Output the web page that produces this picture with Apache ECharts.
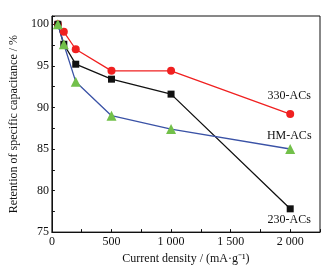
<!DOCTYPE html>
<html>
<head>
<meta charset="utf-8">
<script src="https://cdn.jsdelivr.net/npm/echarts@6/dist/echarts.min.js"></script>
<style>
  html, body { margin: 0; padding: 0; background: #fff; }
  #chart { width: 329px; height: 270px; }
</style>
</head>
<body>
<div id="chart"></div>
<script>
// 전류 밀도 (mA/g)
const currentDensity = [50, 100, 200, 500, 1000, 2000];
// 비정전용량 유지율 (%)
const acs330 = [100, 99.1, 97.0, 94.4, 94.4, 89.2];
const acs230 = [100, 97.6, 95.2, 93.4, 91.6, 77.8];
const hmAcs = [100, 97.6, 93.1, 89.0, 87.4, 85.0];
const seriesNames = ['330-ACs', 'HM-ACs', '230-ACs'];

const FONT = '"Liberation Serif", "Times New Roman", serif';

const chart = echarts.init(document.getElementById('chart'));

// 마지막 점에만 이름 라벨 붙이기
function makeData(values, name, position, offsetY) {
    return values.map((v, i) => {
        const item = { value: [currentDensity[i], v] };
        if (i === values.length - 1) {
            item.label = {
                show: true,
                formatter: name,
                position: position,
                offset: [-1, offsetY],
                fontFamily: FONT,
                fontSize: 12,
                color: '#111'
            };
        }
        return item;
    });
}

function fmtThousand(v) {
    if (v >= 1000) {
        const s = String(v);
        return s.slice(0, s.length - 3) + ' ' + s.slice(s.length - 3);
    }
    return String(v);
}

const option = {
    animation: false,
    grid: {
        left: 41,
        right: 9,
        top: 16,
        bottom: 36,
        show: true,
        borderColor: '#111',
        borderWidth: 1
    },
    xAxis: {
        type: 'value',
        min: 0,
        max: 2250,
        interval: 250,
        name: 'Current density / (mA·g⁻¹)',
        nameLocation: 'middle',
        nameGap: 17,
        nameTextStyle: { fontFamily: FONT, fontSize: 12, color: '#111' },
        axisLine: { show: true, lineStyle: { color: '#111', width: 1 } },
        axisTick: { show: true, inside: true, length: 3, lineStyle: { color: '#111' } },
        splitLine: { show: false },
        axisLabel: {
            fontFamily: FONT,
            fontSize: 12,
            color: '#111',
            margin: 4,
            formatter: v => (v % 500 === 0 && v <= 2000) ? fmtThousand(v) : ''
        }
    },
    yAxis: {
        type: 'value',
        min: 75,
        max: 101,
        interval: 2.5,
        name: 'Retention of specific capacitance / %',
        nameLocation: 'middle',
        nameGap: 24,
        nameTextStyle: { fontFamily: FONT, fontSize: 12, color: '#111' },
        axisLine: { show: true, lineStyle: { color: '#111', width: 1 } },
        axisTick: { show: true, inside: true, length: 3, lineStyle: { color: '#111' } },
        splitLine: { show: false },
        axisLabel: {
            fontFamily: FONT,
            fontSize: 12,
            color: '#111',
            margin: 3,
            formatter: v => (v % 5 === 0 && v <= 100) ? String(v) : ''
        }
    },
    series: [
        {
            name: seriesNames[0],
            type: 'line',
            data: makeData(acs330, seriesNames[0], 'top', -3),
            symbol: 'circle',
            symbolSize: 8,
            lineStyle: { color: '#f02020', width: 1.3 },
            itemStyle: { color: '#f02020' }
        },
        {
            name: seriesNames[2],
            type: 'line',
            data: makeData(acs230, seriesNames[2], 'bottom', -3),
            symbol: 'rect',
            symbolSize: 7,
            lineStyle: { color: '#111', width: 1.3 },
            itemStyle: { color: '#111' }
        },
        {
            name: seriesNames[1],
            type: 'line',
            data: makeData(hmAcs, seriesNames[1], 'top', 3),
            symbol: 'triangle',
            symbolSize: 10,
            lineStyle: { color: '#3a52a6', width: 1.3 },
            itemStyle: { color: '#72c04a' }
        }
    ]
};

chart.setOption(option);
</script>
</body>
</html>
